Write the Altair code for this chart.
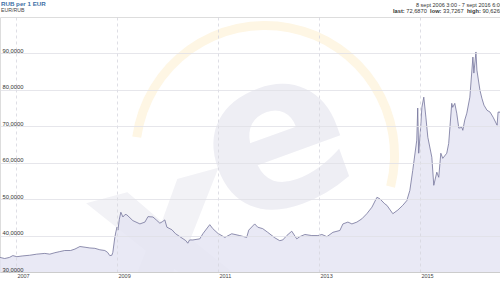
import altair as alt
import pandas as pd

dates = [
    "2006-09-08", "2006-10-12", "2006-11-15", "2006-12-10", "2007-01-08", "2007-02-15",
    "2007-04-11", "2007-06-01", "2007-07-29", "2007-09-03", "2007-10-10", "2007-11-14",
    "2007-12-20", "2008-02-01", "2008-03-03", "2008-04-08", "2008-05-15", "2008-06-19",
    "2008-07-25", "2008-08-30", "2008-10-05", "2008-10-25", "2008-11-10", "2008-11-25",
    "2008-12-02", "2008-12-16", "2008-12-24", "2009-01-01", "2009-01-08", "2009-01-18",
    "2009-01-29", "2009-02-13", "2009-03-01", "2009-03-13", "2009-04-26", "2009-06-16",
    "2009-07-22", "2009-08-13", "2009-09-18", "2009-10-15", "2009-11-07", "2009-11-25",
    "2009-12-13", "2009-12-28", "2010-02-02", "2010-03-01", "2010-04-01", "2010-05-14",
    "2010-05-28", "2010-06-10", "2010-07-04", "2010-08-23", "2010-09-14", "2010-11-03",
    "2010-11-25", "2011-01-01", "2011-02-20", "2011-04-11", "2011-06-08", "2011-07-28",
    "2011-08-12", "2011-09-24", "2011-10-16", "2011-11-21", "2011-12-27", "2012-02-16",
    "2012-03-23", "2012-04-14", "2012-05-13", "2012-06-18", "2012-07-24", "2012-08-15",
    "2012-09-21", "2012-11-10", "2012-12-24", "2013-01-22", "2013-02-27", "2013-04-12",
    "2013-06-01", "2013-06-23", "2013-07-29", "2013-08-27", "2013-10-02", "2013-11-07",
    "2013-12-13", "2014-01-19", "2014-02-24", "2014-03-17", "2014-04-22", "2014-05-07",
    "2014-06-19", "2014-07-25", "2014-08-30", "2014-09-28", "2014-10-20", "2014-11-10",
    "2014-12-09", "2014-12-16", "2014-12-23", "2015-01-08", "2015-01-15", "2015-01-29",
    "2015-02-13", "2015-02-27", "2015-03-28", "2015-04-11", "2015-05-03", "2015-05-17",
    "2015-06-01", "2015-06-15", "2015-07-14", "2015-07-28", "2015-08-19", "2015-08-26",
    "2015-09-10", "2015-09-24", "2015-10-09", "2015-10-31", "2015-11-07", "2015-11-21",
    "2015-12-06", "2015-12-28", "2016-01-19", "2016-01-26", "2016-02-10", "2016-02-17",
    "2016-03-10", "2016-03-24", "2016-04-08", "2016-04-30", "2016-05-22", "2016-06-13",
    "2016-07-12", "2016-07-19", "2016-08-02", "2016-08-20", "2016-09-07",
]
rates = [
    34.0, 33.7, 34.0, 34.5, 34.2, 34.4,
    34.6, 34.9, 35.1, 34.9, 35.3, 35.6,
    35.9, 35.9, 36.3, 37.0, 36.8, 36.6,
    36.5, 36.1, 35.9, 35.4, 34.5, 34.6,
    35.4, 39.4, 41.0, 42.3, 41.5, 44.5,
    46.4, 45.1, 45.8, 45.7, 44.1, 43.2,
    43.7, 45.2, 45.1, 44.2, 43.4, 43.8,
    44.3, 42.3, 41.6, 40.5, 39.7, 38.6,
    37.9, 38.8, 38.8, 39.1, 40.5, 43.0,
    41.9, 40.6, 39.5, 40.5, 40.0, 39.5,
    41.5, 43.2, 42.3, 41.9, 40.9, 39.4,
    38.6, 38.8, 40.0, 41.2, 39.1, 39.7,
    40.3, 40.0, 40.0, 40.3, 39.7, 40.9,
    41.4, 43.2, 43.7, 43.2, 43.7, 44.6,
    46.0, 47.8, 50.5, 50.1, 48.7, 48.3,
    46.0, 47.0, 48.3, 49.6, 52.4, 57.9,
    66.2, 75.0, 62.6, 70.8, 75.2, 78.0,
    72.5, 67.0, 61.5, 53.8, 57.4, 56.0,
    62.6, 61.2, 62.6, 65.3, 76.3, 75.2,
    76.3, 73.6, 69.5, 69.7, 68.9, 71.7,
    73.6, 78.0, 89.0, 84.6, 90.4, 85.4,
    79.9, 77.7, 75.8, 74.4, 73.9, 72.5,
    70.3, 73.9, 73.9, 72.5, 72.7,
]
tick_years = [2007, 2009, 2011, 2013, 2015]
y_ticks = [30, 40, 50, 60, 70, 80, 90]

title_text = "RUB per 1 EUR"
subtitle_text = "EUR/RUB"
range_text = "8 sept 2006 3:00 - 7 sept 2016 6:00"
stats_labels = ["last:", "low:", "high:"]
stats_values = ["72,6870", "33,7267", "90,6265"]

FONT = "Liberation Sans"

df = pd.DataFrame({"date": pd.to_datetime(dates), "rate": rates})

x_enc = alt.X(
    "date:T",
    scale=alt.Scale(domain=[alt.DateTime(year=2006, month=9, date=8),
                            alt.DateTime(year=2016, month=8, date=2)]),
    axis=alt.Axis(
        title=None,
        values=[alt.DateTime(year=y, month=1, date=1) for y in tick_years],
        format="%Y",
        labelAlign="left",
        labelBaseline="top",
        labelPadding=1,
        labelOffset=1,
        labelFontSize=5.5,
        labelFont=FONT,
        labelColor="#444444",
        ticks=False,
        tickSize=0,
        grid=True,
        gridDash=[3, 3],
        gridColor="#d6d6de",
        gridWidth=0.8,
        domainColor="#cccccc",
        domainWidth=1,
        zindex=1,
    ),
)
y_enc = alt.Y(
    "rate:Q",
    scale=alt.Scale(domain=[30, 100], nice=False, zero=False),
    axis=alt.Axis(
        title=None,
        values=y_ticks,
        labelExpr="replace(format(datum.value, '.4f'), '.', ',')",
        labelAlign="left",
        labelBaseline="alphabetic",
        labelPadding=-2,
        labelOffset=-1,
        labelFontSize=5.8,
        labelFont=FONT,
        labelColor="#333333",
        ticks=False,
        tickSize=0,
        domain=False,
        grid=True,
        gridColor="#e0e0e6",
        gridWidth=0.8,
        zindex=1,
    ),
)

one = pd.DataFrame({"t": ["e"]})

arc = alt.Chart(one).mark_arc(
    radius=134, radius2=125, theta=4.85, theta2=8.1, color="#fef6e4"
).encode(x=alt.value(265), y=alt.value(138))

wm_e = alt.Chart(pd.DataFrame({"t": ["e"]})).mark_text(
    font="DejaVu Sans", fontWeight="bold", fontSize=215, color="#eeeef4",
    align="center", baseline="alphabetic", angle=340
).encode(x=alt.value(298), y=alt.value(185), text="t:N")

wm_x = alt.Chart(pd.DataFrame({"t": ["x"]})).mark_text(
    font="DejaVu Sans", fontWeight="bold", fontSize=230, color="#f2f2f6",
    align="center", baseline="alphabetic", angle=345, clip=True
).encode(x=alt.value(185), y=alt.value(290), text="t:N")

base = alt.Chart(df)
area = base.mark_area(color="#e4e4f3", opacity=0.8, clip=True).encode(x=x_enc, y=y_enc)
line = base.mark_line(color="#74749a", strokeWidth=0.8, clip=True).encode(x="date:T", y="rate:Q")

def txt(s, x, y, size=5.7, bold=False, color="#333333"):
    return alt.Chart(pd.DataFrame({"t": [s]})).mark_text(
        font=FONT, fontSize=size, fontWeight="bold" if bold else "normal",
        color=color, align="left", baseline="alphabetic"
    ).encode(x=alt.value(x), y=alt.value(y), text="t:N")

texts = [
    txt(title_text, 1, -11, size=6.2, bold=True, color="#3e6fa6"),
    txt(subtitle_text, 1, -4.8, size=5.2, color="#444444"),
    txt(range_text, 416, -9.8, size=5.5),
    txt(stats_labels[0], 393, -3.8, bold=True),
    txt(stats_values[0], 406.3, -3.8),
    txt(stats_labels[1], 430.1, -3.8, bold=True),
    txt(stats_values[1], 443.1, -3.8),
    txt(stats_labels[2], 466.9, -3.8, bold=True),
    txt(stats_values[2], 482.4, -3.8),
]

chart = alt.layer(arc, wm_e, wm_x, area, line, *texts).properties(
    width=500,
    height=255,
    autosize=alt.AutoSizeParams(type="none"),
    padding={"left": 0, "top": 17, "right": 0, "bottom": 11},
).configure_view(stroke="#dddddd", strokeWidth=1).configure(background="white")

chart.save("out.html", embed_options={"renderer": "svg", "actions": False})
